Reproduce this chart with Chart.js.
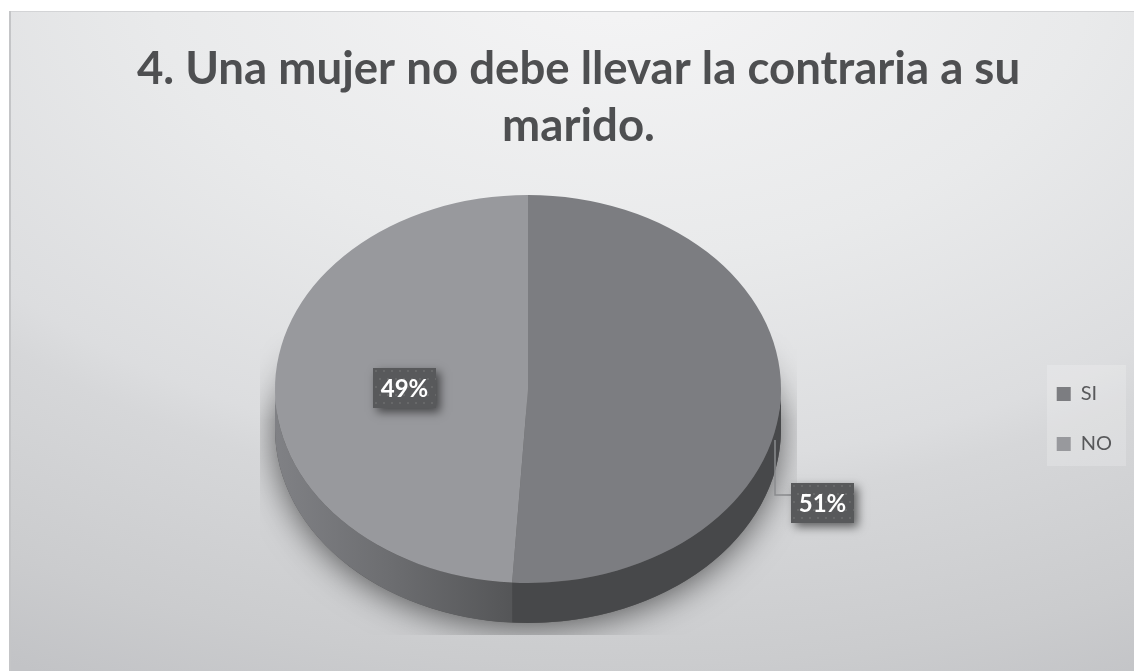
<!DOCTYPE html>
<html lang="es">
<head>
<meta charset="utf-8">
<title>Una mujer no debe llevar la contraria a su marido</title>
<style>html,body{margin:0;padding:0;background:#fff}canvas{display:block}</style>
<script src="https://cdn.jsdelivr.net/npm/chart.js@4"></script>
</head>
<body>
<canvas id="c" width="1134" height="671"></canvas>
<script>
const categories = ["SI", "NO"];
const values = [51, 49];
const titleLines = ["4. Una mujer no debe llevar la contraria a su", "marido."];
const topColors = ["#7c7d81", "#98999d"];

const CX = 528, CY = 389, RX = 253, RY = 194, DEPTH = 40;
const labelCenters = [[822.5, 503], [404.5, 388]];

function dotPattern(ctx) {
  const p = document.createElement('canvas');
  p.width = 16; p.height = 16;
  const g = p.getContext('2d');
  g.fillStyle = '#58595b'; g.fillRect(0, 0, 16, 16);
  g.fillStyle = '#676869';
  g.fillRect(2, 2, 2, 2); g.fillRect(10, 2, 2, 2);
  g.fillRect(6, 10, 2, 2); g.fillRect(14, 10, 2, 2);
  return ctx.createPattern(p, 'repeat');
}

function wallPath(ctx, a0, a1) {
  ctx.beginPath();
  ctx.ellipse(CX, CY, RX, RY, 0, a0, a1, false);
  ctx.ellipse(CX, CY + DEPTH, RX, RY, 0, a1, a0, true);
  ctx.closePath();
}

function drawShadow(ctx) {
  const off = document.createElement('canvas');
  off.width = 1134; off.height = 671;
  const o = off.getContext('2d');
  o.save();
  o.beginPath();
  o.rect(260, 300, 537, 335);
  o.clip();
  o.shadowColor = 'rgba(0,0,0,0.6)';
  o.shadowBlur = 34;
  o.shadowOffsetY = 4;
  o.fillStyle = '#555';
  o.beginPath();
  o.ellipse(CX, CY + DEPTH, RX, RY, 0, 0, Math.PI * 2);
  o.fill();
  o.restore();
  // the shadow fades out towards the top
  o.globalCompositeOperation = 'destination-in';
  const m = o.createLinearGradient(0, 325, 0, 420);
  m.addColorStop(0, 'rgba(0,0,0,0)');
  m.addColorStop(1, 'rgba(0,0,0,1)');
  o.fillStyle = m;
  o.fillRect(0, 0, 1134, 671);
  ctx.drawImage(off, 0, 0);
}

const scene = {
  id: 'scene',
  afterLayout(chart) {
    // the legend sits lower than the library's vertical centre
    chart.legend.top += 65;
    chart.legend.bottom += 65;
  },
  beforeDraw(chart) {
    const ctx = chart.ctx;
    ctx.save();
    ctx.fillStyle = '#ffffff';
    ctx.fillRect(0, 0, 1134, 671);
    ctx.save();
    ctx.beginPath();
    ctx.rect(10, 12, 1124, 659);
    ctx.clip();
    ctx.translate(620, -40);
    ctx.scale(1.6, 1);
    const g = ctx.createRadialGradient(0, 0, 0, 0, 0, 800);
    g.addColorStop(0.07, '#f3f3f4');
    g.addColorStop(0.37, '#e9eaeb');
    g.addColorStop(0.63, '#dcdddf');
    g.addColorStop(0.68, '#d6d7d9');
    g.addColorStop(0.88, '#cbccce');
    g.addColorStop(1, '#c2c3c6');
    ctx.fillStyle = g;
    ctx.fillRect(-800, -100, 1600, 900);
    ctx.restore();
    ctx.fillStyle = '#d3d4d6';
    ctx.fillRect(10, 11, 1124, 1);
    ctx.fillStyle = '#c4c5c7';
    ctx.fillRect(9, 11, 2, 660);
    ctx.fillStyle = 'rgba(255,255,255,0.2)';
    ctx.fillRect(1047, 365, 79, 101);
    ctx.restore();
  },
  beforeDatasetsDraw(chart) {
    const ctx = chart.ctx;
    const arcs = chart.getDatasetMeta(0).data;
    drawShadow(ctx);

    // side wall, following the library's slice angles
    const TAU = 2 * Math.PI;
    arcs.forEach((arc, i) => {
      const n = (v) => ((v % TAU) + TAU) % TAU;
      let s = n(arc.startAngle), e = n(arc.endAngle);
      if (e <= s) e += TAU;
      [0, TAU].forEach((k) => {
        const lo = Math.max(s, k), hi = Math.min(e, k + Math.PI);
        if (hi <= lo) return;
        const g = ctx.createLinearGradient(CX - RX, 0, CX - 18, 0);
        if (i === 0) {
          g.addColorStop(0, '#47484a'); g.addColorStop(1, '#47484a');
        } else {
          g.addColorStop(0, '#808185'); g.addColorStop(0.5, '#6c6d70'); g.addColorStop(1, '#555658');
        }
        ctx.save();
        ctx.fillStyle = g;
        wallPath(ctx, lo - k, hi - k);
        ctx.fill();
        ctx.restore();
      });
    });

    // squash the pie that the library draws into the perspective ellipse
    const a = arcs[0];
    const f = RX / a.outerRadius;
    ctx.save();
    ctx.translate(CX, CY);
    ctx.scale(f, f * RY / RX);
    ctx.translate(-a.x, -a.y);
  },
  afterDatasetsDraw(chart) {
    const ctx = chart.ctx;
    ctx.restore();
    const arcs = chart.getDatasetMeta(0).data;
    const total = values.reduce((s, v) => s + v, 0);
    const pattern = dotPattern(ctx);

    // leader line of the outer label
    ctx.save();
    ctx.strokeStyle = '#8b8c8e';
    ctx.lineWidth = 1.5;
    ctx.beginPath();
    ctx.moveTo(775, 440);
    ctx.lineTo(775, 495);
    ctx.lineTo(792, 495);
    ctx.stroke();
    ctx.restore();

    const W = 63, H = 40;
    arcs.forEach((arc, i) => {
      const [cx, cy] = labelCenters[i];
      ctx.save();
      ctx.shadowColor = 'rgba(0,0,0,0.55)';
      ctx.shadowBlur = 9;
      ctx.shadowOffsetX = 4;
      ctx.shadowOffsetY = 4;
      ctx.fillStyle = '#58595b';
      ctx.fillRect(cx - W / 2, cy - H / 2, W, H);
      ctx.restore();
      ctx.save();
      ctx.translate(cx - W / 2, cy - H / 2);
      ctx.fillStyle = pattern;
      ctx.fillRect(0, 0, W, H);
      ctx.restore();
      ctx.save();
      ctx.fillStyle = '#ffffff';
      ctx.font = 'bold 24px Lato';
      ctx.textAlign = 'center';
      ctx.textBaseline = 'middle';
      ctx.fillText(Math.round(values[i] / total * 100) + '%', cx, cy + 1);
      ctx.restore();
    });
  }
};

new Chart(document.getElementById('c'), {
  type: 'pie',
  data: {
    labels: categories,
    datasets: [{ data: values, backgroundColor: topColors, borderWidth: 0 }]
  },
  plugins: [scene],
  options: {
    responsive: false,
    animation: false,
    devicePixelRatio: 1,
    layout: { padding: { top: 41, right: 12, bottom: 4, left: 35 } },
    plugins: {
      tooltip: { enabled: false },
      title: {
        display: true,
        text: titleLines,
        color: '#4e4f51',
        font: { family: 'Lato', size: 45.6, weight: 'bold', lineHeight: 1.24 },
        padding: { top: 0, bottom: 20 }
      },
      legend: {
        position: 'right',
        labels: {
          boxWidth: 14,
          boxHeight: 14,
          padding: 30,
          color: '#58595b',
          font: { family: 'Lato', size: 20 }
        }
      }
    }
  }
});
</script>
</body>
</html>
